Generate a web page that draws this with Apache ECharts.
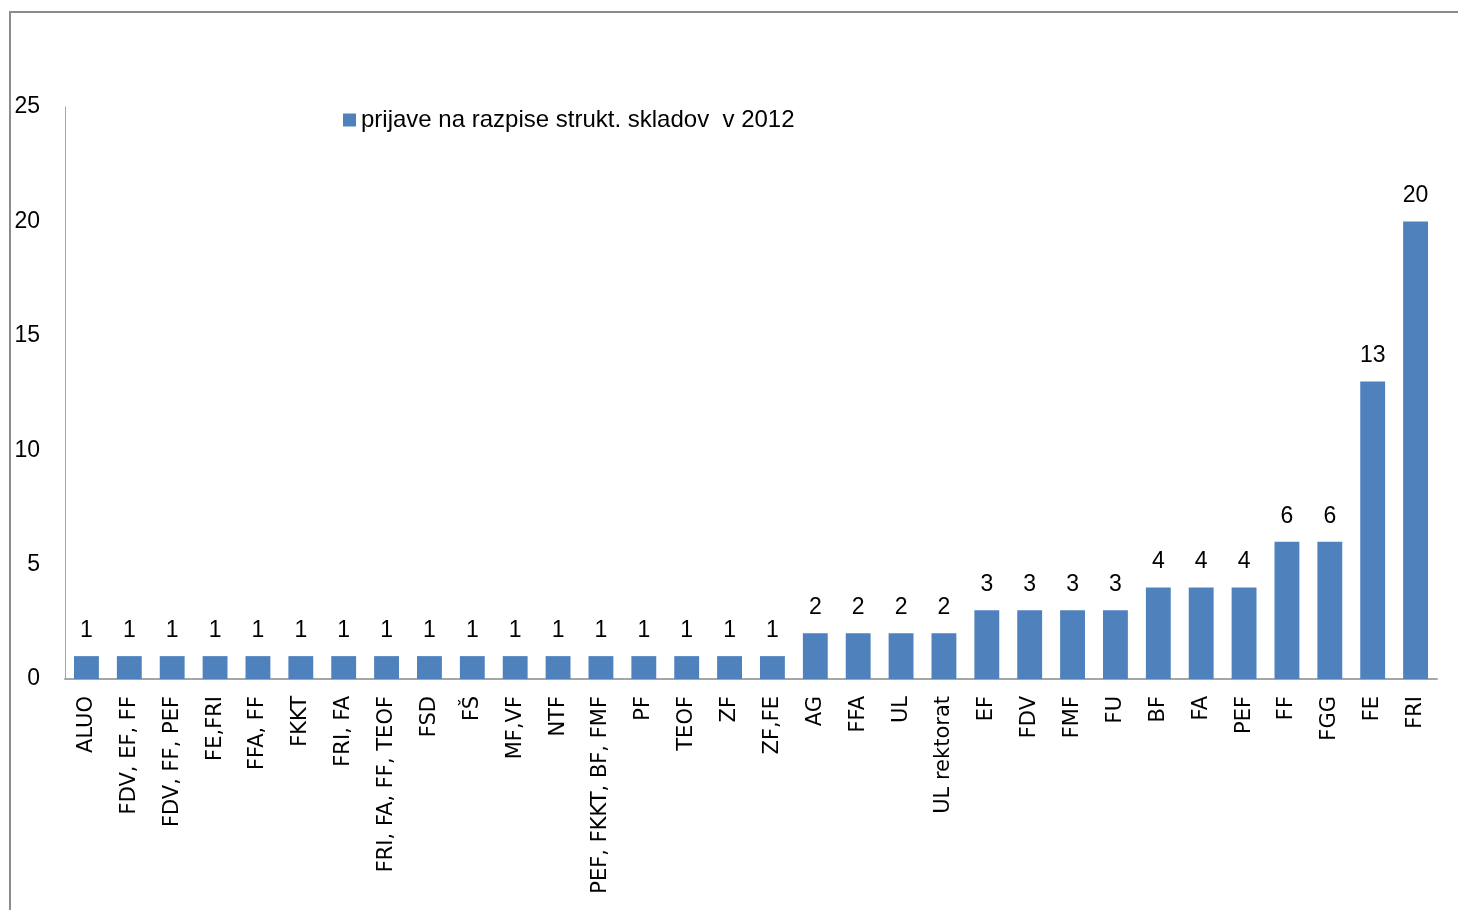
<!DOCTYPE html>
<html><head><meta charset="utf-8">
<script src="https://cdn.jsdelivr.net/npm/echarts@6/dist/echarts.min.js"></script>
<style>html,body{margin:0;padding:0;background:#fff}#c{width:1458px;height:910px}</style>
</head><body><div id="c"></div>
<script>
const categories = ['ALUO','FDV, EF, FF','FDV, FF, PEF','FE,FRI','FFA, FF','FKKT','FRI, FA','FRI, FA, FF, TEOF','FSD','FŠ','MF,VF','NTF','PEF, FKKT, BF, FMF','PF','TEOF','ZF','ZF,FE','AG','FFA','UL','UL rektorat','EF','FDV','FMF','FU','BF','FA','PEF','FF','FGG','FE','FRI'];
const values = [1,1,1,1,1,1,1,1,1,1,1,1,1,1,1,1,1,2,2,2,2,3,3,3,3,4,4,4,6,6,13,20];
const seriesName = 'prijave na razpise strukt. skladov  v 2012';
const yTicks = [0,5,10,15,20,25];

const narrow = '"Liberation Sans Narrow", "Liberation Sans", sans-serif';
const chart = echarts.init(document.getElementById('c'), null, {renderer:'canvas'});
chart.setOption({
  animation:false,
  backgroundColor:'#fff',
  graphic:[{type:'rect', shape:{x:10,y:12,width:1460,height:910}, style:{fill:'none', stroke:'#8c8c8c', lineWidth:2}, silent:true}],
  legend:{show:true, left:338, top:103, itemWidth:13, itemHeight:13, icon:'rect', itemGap:6,
    textStyle:{fontFamily:narrow, fontSize:24, color:'#000'}, data:[seriesName]},
  grid:{left:65, right:21, top:107, bottom:231, containLabel:false},
  xAxis:{type:'category', data:categories,
    axisLine:{lineStyle:{color:'#a6a6a6', width:2}}, axisTick:{show:false},
    axisLabel:{rotate:90, margin:17, interval:0, fontFamily:'DejaVu Sans', fontSize:21, color:'#000'}},
  yAxis:{type:'value', min:yTicks[0], max:yTicks[yTicks.length-1], interval:5,
    axisLine:{show:true, lineStyle:{color:'#a6a6a6', width:1}}, axisTick:{show:false}, splitLine:{show:false},
    axisLabel:{margin:25, fontFamily:narrow, fontSize:23, color:'#000'}},
  series:[{name:seriesName, type:'bar', data:values, barWidth:'58%',
    itemStyle:{color:'#4F81BD'},
    label:{show:true, position:'top', distance:14, fontFamily:narrow, fontSize:23, color:'#000'}}]
});
</script></body></html>
